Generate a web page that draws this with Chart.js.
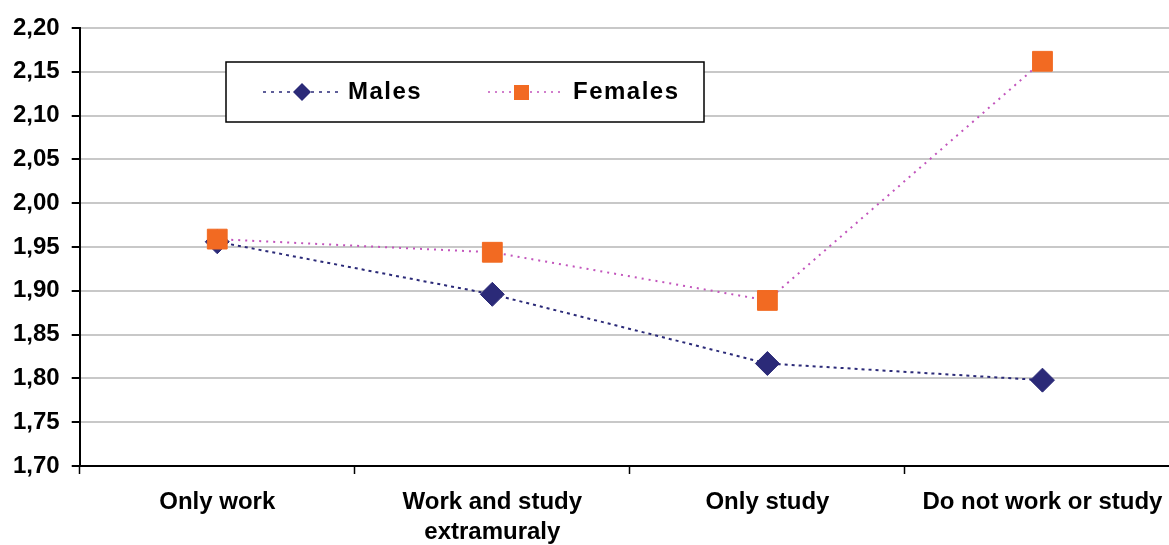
<!DOCTYPE html>
<html>
<head>
<meta charset="utf-8">
<script src="https://cdn.jsdelivr.net/npm/chart.js@4.4.1/dist/chart.umd.min.js"></script>
<style>
  html, body { margin: 0; padding: 0; background: #fff; overflow: hidden; }
  #wrap { width: 1180px; height: 545px; position: relative; }
  canvas { display: block; }
</style>
</head>
<body>
<div id="wrap"><canvas id="mainChart"></canvas></div>
<script>
const categorias = [['Only work'], ['Work and study', 'extramuraly'], ['Only study'], ['Do not work or study']];
const males = [1.956, 1.896, 1.817, 1.798];
const females = [1.959, 1.944, 1.889, 2.162];
const yTicks = [1.70, 1.75, 1.80, 1.85, 1.90, 1.95, 2.00, 2.05, 2.10, 2.15, 2.20];

const navy = '#2B2A78';
const orange = '#F26A22';
const pink = '#C254BC';
const fonte = 'Liberation Sans, Arial, sans-serif';

// legenda desenhada dentro do grafico, com caixa
const legendaBox = {
    id: 'legendaBox',
    afterDraw(chart) {
        const ctx = chart.ctx;
        ctx.save();
        ctx.fillStyle = '#fff';
        ctx.fillRect(226, 62, 478, 60);
        ctx.strokeStyle = '#000';
        ctx.lineWidth = 1.5;
        ctx.strokeRect(226, 62, 478, 60);

        const y = 92;
        // Males
        ctx.strokeStyle = navy;
        ctx.lineWidth = 1.5;
        ctx.setLineDash([3, 5]);
        ctx.beginPath(); ctx.moveTo(263, y); ctx.lineTo(338, y); ctx.stroke();
        ctx.setLineDash([]);
        ctx.fillStyle = navy;
        ctx.beginPath();
        ctx.moveTo(302, y - 9); ctx.lineTo(311, y); ctx.lineTo(302, y + 9); ctx.lineTo(293, y);
        ctx.closePath(); ctx.fill();

        // Females
        ctx.strokeStyle = pink;
        ctx.setLineDash([2, 5]);
        ctx.beginPath(); ctx.moveTo(488, y); ctx.lineTo(562, y); ctx.stroke();
        ctx.setLineDash([]);
        ctx.fillStyle = orange;
        ctx.fillRect(514, y - 7, 15, 15);

        ctx.fillStyle = '#000';
        ctx.font = 'bold 24px ' + fonte;
        ctx.textBaseline = 'middle';
        ctx.letterSpacing = '1.5px';
        ctx.fillText('Males', 348, y);
        ctx.fillText('Females', 573, y);
        ctx.restore();
    }
};

const ctxLine = document.getElementById('mainChart').getContext('2d');
const lineChart = new Chart(ctxLine, {
    type: 'line',
    data: {
        labels: categorias,
        datasets: [{
            label: 'Males',
            data: males,
            order: 1,
            borderColor: navy,
            borderWidth: 2,
            borderDash: [3, 4],
            pointStyle: 'rectRot',
            pointRadius: 12,
            pointHoverRadius: 12,
            pointBackgroundColor: navy,
            pointBorderColor: navy,
            pointBorderWidth: 1,
            tension: 0
        }, {
            label: 'Females',
            data: females,
            order: 0,
            borderColor: pink,
            borderWidth: 2,
            borderDash: [2, 5],
            pointStyle: 'rect',
            pointRadius: 14,
            pointHoverRadius: 14,
            pointBackgroundColor: orange,
            pointBorderColor: orange,
            pointBorderWidth: 1,
            tension: 0
        }]
    },
    options: {
        responsive: true,
        maintainAspectRatio: false,
        animation: false,
        layout: {
            autoPadding: false,
            padding: { top: 28, left: 1, right: 0, bottom: 0 }
        },
        scales: {
            x: {
                offset: true,
                afterFit: (axis) => {
                    axis.height = 79;
                    axis.paddingRight = 0;
                    axis.paddingLeft = 0;
                },
                grid: {
                    offset: true,
                    drawOnChartArea: false,
                    tickLength: 8,
                    tickColor: '#000',
                    tickWidth: 1.5
                },
                border: { color: '#000', width: 2 },
                ticks: {
                    color: '#000',
                    padding: 13,
                    maxRotation: 0,
                    font: { family: fonte, size: 24, weight: 'bold', lineHeight: 1.25 }
                }
            },
            y: {
                min: 1.7,
                max: 2.2,
                afterBuildTicks: (axis) => { axis.ticks = yTicks.map(v => ({ value: v })); },
                afterFit: (axis) => { axis.paddingTop = 0; axis.paddingBottom = 0; },
                grid: {
                    color: '#C8C8C8',
                    lineWidth: 2,
                    tickLength: 8,
                    tickColor: '#000'
                },
                border: { color: '#000', width: 2 },
                ticks: {
                    color: '#000',
                    padding: 12,
                    font: { family: fonte, size: 24, weight: 'bold' },
                    callback: (v) => Number(v).toFixed(2).replace('.', ',')
                }
            }
        },
        plugins: {
            legend: { display: false },
            title: { display: false },
            tooltip: { enabled: false }
        }
    },
    plugins: [legendaBox]
});
</script>
</body>
</html>
